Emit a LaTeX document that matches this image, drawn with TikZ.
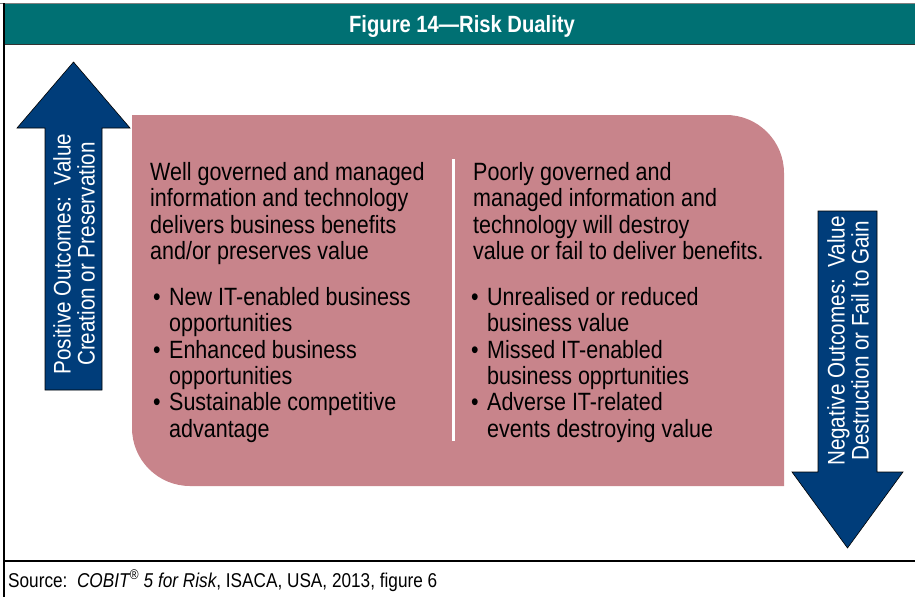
\documentclass[tikz,border=0pt]{standalone}
\usepackage{fontspec}
\setmainfont{Liberation Sans}[FakeStretch=0.86]
\usetikzlibrary{positioning}

\definecolor{headteal}{RGB}{0,112,115}
\definecolor{duality}{RGB}{200,132,139}
\definecolor{outcome}{RGB}{0,61,122}

\newcommand{\bitem}{\makebox[16pt][l]{\textbullet}}
\newcommand{\bcont}{\hspace*{16pt}}

\begin{document}
\begin{tikzpicture}[x=1pt,y=-1pt,
  bodytext/.style={font=\fontsize{25}{26.4}\selectfont, align=left, inner sep=0pt, anchor=north west},
  arrowtext/.style={font=\fontsize{24}{24}\selectfont, align=center, inner sep=0pt, text=white, rotate=90},
  arrowfill/.style={fill=outcome, draw=black, line width=.6pt}]
\useasboundingbox (0,0) rectangle (915,597);

\fill[headteal] (4,4) rectangle (915,44); % header band
\draw[gray, line width=1pt] (0,3) -- (915,3);
\draw[black!80, line width=1.5pt] (4,44.5) -- (915,44.5);
\node[font=\bfseries\fontsize{23.5}{26}\selectfont, text=white] (title) at (462,26) {Figure 14—Risk Duality};

\draw[black, line width=2pt] (4,3) -- (4,597); % left border
\draw[black, line width=1.5pt] (4,561) -- (915,561); % source rule

% duality panel
\fill[duality] (132,115) -- (726,115) arc[start angle=-90, end angle=0, radius=58] -- (784,486) -- (190,486) arc[start angle=90, end angle=180, radius=58] -- cycle;
\draw[white, line width=3pt] (453,159) -- (453,441); % divider

% positive outcome arrow
\draw[arrowfill] (45,390) -- (45,128) -- (17,128) -- (73.5,62) -- (130,128) -- (102,128) -- (102,390) -- cycle;
\node[arrowtext] (posout) at (74,254) {Positive Outcomes:\ \ Value\\Creation or Preservation};

% negative outcome arrow
\draw[arrowfill] (818,211) -- (818,472) -- (792,472) -- (847.5,548) -- (903,472) -- (877,472) -- (877,211) -- cycle;
\node[arrowtext] (negout) at (848,341) {Negative Outcomes:\ \ Value\\Destruction or Fail to Gain};

\node[bodytext] (goodhead) at (150,162) {Well governed and managed\\information and technology\\delivers business benefits\\and/or preserves value};
\node[bodytext] (goodlist) at (153,287) {\bitem New IT-enabled business\\\bcont opportunities\\\bitem Enhanced business\\\bcont opportunities\\\bitem Sustainable competitive\\\bcont advantage};

\node[bodytext] (badhead) at (473,162) {Poorly governed and\\managed information and\\technology will destroy\\value or fail to deliver benefits.};
\node[bodytext] (badlist) at (471,287) {\bitem Unrealised or reduced\\\bcont business value\\\bitem Missed IT-enabled\\\bcont business opprtunities\\\bitem Adverse IT-related\\\bcont events destroying value};

\node[font=\fontsize{20}{22}\selectfont, anchor=base west, inner sep=0pt] (source) at (8,587) {Source:\ \ \textit{COBIT\textsuperscript{®} 5 for Risk}, ISACA, USA, 2013, figure 6};
\end{tikzpicture}
\end{document}
